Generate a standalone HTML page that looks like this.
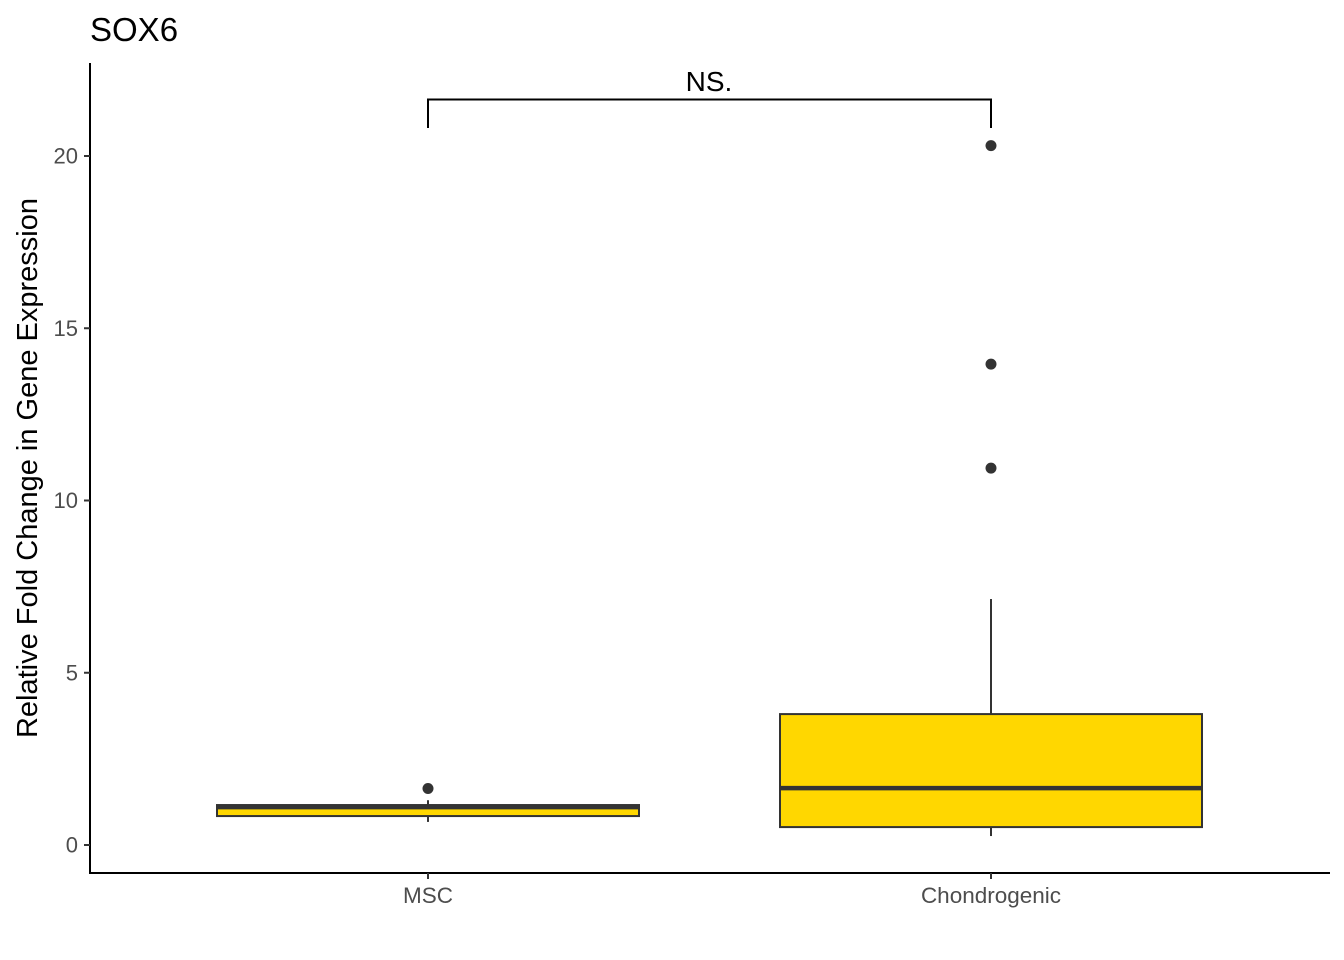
<!DOCTYPE html>
<html><head><meta charset="utf-8"><style>body{margin:0;background:#fff}svg{display:block;font-family:"Liberation Sans",sans-serif}</style></head>
<body>
<svg id="c" width="1344" height="960"></svg>
<script>
const categories=["MSC","Chondrogenic"];
const q1=[0.84,0.52];
const medians=[1.1,1.65];
const q3=[1.16,3.8];
const whiskLo=[0.67,0.26];
const whiskHi=[1.3,7.14];
const outliers=[[1.64],[20.3,13.96,10.94]];
const yTicks=[0,5,10,15,20];
const NS="http://www.w3.org/2000/svg";
const svg=document.getElementById('c');
const y=v=>845-v*34.45;
const x=i=>428+i*563;
const half=211;
function mk(t,a,p){const e=document.createElementNS(NS,t);for(const k in a)e.setAttribute(k,a[k]);(p||svg).appendChild(e);return e;}
let t=mk('text',{x:90,y:41,'font-size':33});t.textContent='SOX6';


let ax=mk('line',{x1:90,y1:63,x2:90,y2:874,stroke:'#000','stroke-width':2});


let bx=mk('line',{x1:89,y1:873,x2:1330,y2:873,stroke:'#000','stroke-width':2});


yTicks.forEach(v=>{mk('line',{x1:84,x2:90,y1:y(v),y2:y(v),stroke:'#333','stroke-width':2});
let l=mk('text',{x:78,y:y(v)+7.5,'font-size':22,fill:'#4d4d4d','text-anchor':'end'});l.textContent=v;

});
let yt=mk('text',{transform:'translate(37,468) rotate(-90)','font-size':29,'text-anchor':'middle'});yt.textContent='Relative Fold Change in Gene Expression';


categories.forEach((c,i)=>{
const cx=x(i);
mk('line',{x1:cx,x2:cx,y1:873,y2:879,stroke:'#333','stroke-width':2});
let l=mk('text',{x:cx,y:903,'font-size':22.5,fill:'#4d4d4d','text-anchor':'middle'});l.textContent=c;


const g=mk('g',{});


mk('line',{x1:cx,x2:cx,y1:y(whiskHi[i]),y2:y(q3[i]),stroke:'#333','stroke-width':2},g);
mk('line',{x1:cx,x2:cx,y1:y(q1[i]),y2:y(whiskLo[i]),stroke:'#333','stroke-width':2},g);
mk('rect',{x:cx-half,y:y(q3[i]),width:2*half,height:y(q1[i])-y(q3[i]),fill:'#FFD700',stroke:'#333','stroke-width':2},g);
mk('line',{x1:cx-half,x2:cx+half,y1:y(medians[i]),y2:y(medians[i]),stroke:'#333','stroke-width':4.5},g);
outliers[i].forEach(o=>{let p=mk('circle',{cx:cx,cy:y(o),r:5.5,fill:'#333'},g);

});
});
let br=mk('path',{d:`M${x(0)},128 V99.5 H${x(1)} V128`,fill:'none',stroke:'#000','stroke-width':2});


let ns=mk('text',{x:709,y:91,'font-size':28,'text-anchor':'middle'});ns.textContent='NS.';


</script>
</body></html>
